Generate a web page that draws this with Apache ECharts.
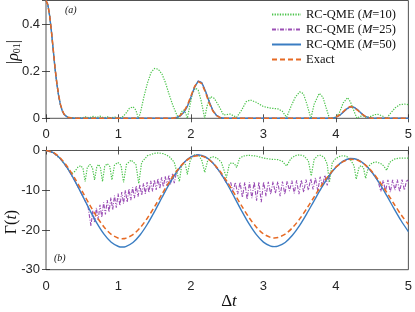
<!DOCTYPE html>
<html><head><meta charset="utf-8">
<script src="https://cdn.jsdelivr.net/npm/echarts@6/dist/echarts.min.js"></script>
<style>html,body{margin:0;padding:0;background:#fff}#c{width:415px;height:312px}</style>
</head><body><div id="c"></div>
<script>
// ---------- data ----------
const xTickLabels = ['0','1','2','3','4','5'];
const topYTickLabels = ['0','0.2','0.4'];
const bottomYTickLabels = ['-30','-20','-10','0'];
const seriesNames = ['RC-QME (M=10)','RC-QME (M=25)','RC-QME (M=50)','Exact'];

// panel (a): |rho_01|
const rhoM10 = [[0,0.5],[0.025,0.483],[0.05,0.436],[0.075,0.368],[0.1,0.289],[0.125,0.21],[0.15,0.146],[0.175,0.094],[0.2,0.056],[0.225,0.031],[0.25,0.016],[0.3,0.005],[0.35,0.002],[0.42,0.001],[0.5,0.002],[0.55,0.006],[0.6,0.002],[0.65,0.008],[0.7,0.003],[0.75,0.009],[0.8,0.002],[0.85,0.006],[0.9,0.002],[0.95,0.005],[1.0,0.002],[1.05,0.004],[1.1,0.02],[1.15,0.042],[1.2,0.049],[1.24,0.035],[1.275,0],[1.3,0.02],[1.35,0.09],[1.4,0.15],[1.45,0.195],[1.5,0.212],[1.55,0.208],[1.6,0.188],[1.65,0.15],[1.7,0.1],[1.75,0.055],[1.8,0.018],[1.83,0],[1.87,0.028],[1.9,0.035],[1.93,0.02],[1.95,0],[1.98,0.045],[2.02,0.105],[2.06,0.128],[2.1,0.12],[2.14,0.075],[2.19,0],[2.22,0.05],[2.27,0.092],[2.32,0.085],[2.38,0.055],[2.45,0.014],[2.5,0.016],[2.54,0.018],[2.58,0.012],[2.63,0.004],[2.7,0.035],[2.76,0.07],[2.82,0.078],[2.9,0.068],[3.0,0.05],[3.1,0.043],[3.2,0.04],[3.26,0.03],[3.32,0.004],[3.38,0.05],[3.44,0.09],[3.5,0.112],[3.55,0.105],[3.6,0.06],[3.655,0],[3.7,0.06],[3.77,0.106],[3.82,0.09],[3.87,0.04],[3.91,0],[3.95,0.002],[4.0,0.005],[4.05,0.025],[4.1,0.065],[4.16,0.088],[4.2,0.07],[4.25,0.03],[4.29,0],[4.33,0.008],[4.38,0.01],[4.42,0.003],[4.48,0.008],[4.53,0.015],[4.58,0.017],[4.64,0.01],[4.7,0],[4.75,0.02],[4.82,0.045],[4.88,0.058],[4.95,0.06],[5.0,0.058]];
const rhoM50 = [[0,0.5],[0.025,0.483],[0.05,0.436],[0.075,0.368],[0.1,0.289],[0.125,0.21],[0.15,0.146],[0.175,0.094],[0.2,0.056],[0.225,0.031],[0.25,0.016],[0.3,0.004],[0.35,0.001],[0.4,0],[1.75,0],[1.8,0.003],[1.85,0.01],[1.9,0.025],[1.95,0.05],[2.0,0.09],[2.05,0.132],[2.1,0.158],[2.15,0.151],[2.2,0.116],[2.25,0.071],[2.3,0.035],[2.35,0.013],[2.4,0.004],[2.45,0],[3.95,0],[4.0,0.004],[4.05,0.012],[4.1,0.026],[4.15,0.04],[4.2,0.049],[4.25,0.047],[4.3,0.036],[4.35,0.021],[4.4,0.009],[4.45,0.003],[4.5,0],[5,0]];
const rhoM25 = rhoM50; // coincides with M=50 in panel (a)
const rhoExact = [[0,0.5],[0.025,0.483],[0.05,0.437],[0.075,0.37],[0.1,0.292],[0.125,0.214],[0.15,0.149],[0.175,0.097],[0.2,0.059],[0.225,0.033],[0.25,0.017],[0.3,0.004],[0.35,0.001],[0.4,0],[1.75,0],[1.8,0.004],[1.85,0.012],[1.9,0.028],[1.95,0.055],[2.0,0.095],[2.05,0.135],[2.1,0.156],[2.15,0.147],[2.2,0.11],[2.25,0.066],[2.3,0.032],[2.35,0.012],[2.4,0.003],[2.45,0],[3.95,0],[4.0,0.005],[4.05,0.014],[4.1,0.028],[4.15,0.042],[4.2,0.05],[4.25,0.046],[4.3,0.034],[4.35,0.02],[4.4,0.009],[4.45,0.003],[4.5,0],[5,0]];

// panel (b): Gamma(t)
const gammaM10 = [[0,0],[0.1,-0.54],[0.2,-2.11],[0.3,-4.57],[0.35,-5.9],[0.4,-5.2],[0.44,-4.2],[0.48,-3.8],[0.51,-4.5],[0.54,-7.8],[0.57,-4.3],[0.605,-3.5],[0.64,-4.3],[0.67,-7.4],[0.7,-4.2],[0.725,-3.5],[0.75,-4.2],[0.78,-7.8],[0.81,-4.0],[0.845,-3.3],[0.88,-4.0],[0.91,-7.4],[0.945,-3.7],[0.99,-3.0],[1.035,-3.7],[1.07,-8.0],[1.11,-3.5],[1.175,-2.4],[1.24,-3.5],[1.28,-8.3],[1.32,-3.0],[1.4,-1.3],[1.5,-0.7],[1.55,-0.6],[1.62,-0.8],[1.7,-1.5],[1.77,-3.0],[1.84,-7.8],[1.87,-4.0],[1.9,-3.0],[1.925,-3.6],[1.95,-6.0],[1.99,-2.5],[2.03,-1.3],[2.07,-1.0],[2.11,-1.3],[2.15,-2.5],[2.19,-5.5],[2.23,-2.6],[2.27,-1.8],[2.31,-1.6],[2.36,-1.9],[2.42,-3.0],[2.49,-6.8],[2.53,-3.4],[2.56,-3.1],[2.6,-3.3],[2.63,-4.3],[2.67,-2.0],[2.72,-1.4],[2.8,-1.2],[2.9,-1.4],[3.0,-1.9],[3.1,-2.2],[3.2,-2.3],[3.26,-2.7],[3.32,-3.9],[3.38,-2.0],[3.44,-1.3],[3.5,-1.1],[3.56,-1.4],[3.62,-2.6],[3.66,-6.4],[3.7,-2.2],[3.75,-1.3],[3.79,-1.2],[3.84,-1.8],[3.88,-3.4],[3.91,-8.0],[3.95,-3.0],[4.0,-2.0],[4.05,-1.5],[4.1,-1.3],[4.15,-1.5],[4.2,-2.3],[4.25,-3.8],[4.28,-7.2],[4.32,-4.2],[4.35,-3.8],[4.38,-4.3],[4.41,-7.0],[4.45,-4.0],[4.5,-3.1],[4.56,-2.9],[4.62,-3.3],[4.66,-3.9],[4.7,-5.0],[4.74,-3.0],[4.8,-2.2],[4.88,-1.9],[5.0,-1.9]];
const gammaM25 = [[0,0],[0.1,-0.54],[0.2,-2.11],[0.3,-4.57],[0.4,-7.71],[0.5,-11.24],[0.58,-14.15],[0.6,-14.6],[0.62,-19.0],[0.645,-15.2],[0.67,-18.2],[0.695,-14.4],[0.72,-17.5],[0.745,-13.65],[0.77,-16.8],[0.795,-13.05],[0.82,-16.1],[0.845,-12.45],[0.87,-15.5],[0.895,-11.85],[0.92,-14.9],[0.945,-11.35],[0.97,-14.4],[0.995,-10.85],[1.02,-13.9],[1.045,-10.45],[1.07,-13.4],[1.095,-10.05],[1.12,-13.0],[1.145,-9.65],[1.17,-12.5],[1.195,-9.25],[1.22,-12.0],[1.245,-8.9],[1.27,-11.6],[1.295,-8.55],[1.32,-11.3],[1.345,-8.25],[1.37,-10.9],[1.395,-7.95],[1.42,-10.6],[1.445,-7.65],[1.47,-10.3],[1.495,-7.35],[1.52,-9.9],[1.545,-7.05],[1.57,-9.6],[1.595,-6.75],[1.62,-9.2],[1.645,-6.45],[1.67,-8.9],[1.695,-6.15],[1.72,-8.5],[1.745,-5.85],[1.77,-8.2],[1.8,-5.47],[1.9,-3.11],[2.0,-1.62],[2.1,-1.1],[2.2,-1.61],[2.3,-3.1],[2.4,-5.45],[2.5,-8.43],[2.55,-8.1],[2.58,-10.5],[2.6125,-8.0],[2.645,-11.0],[2.6775,-8.0],[2.71,-11.8],[2.7425,-8.0],[2.775,-12.3],[2.8075,-8.0],[2.84,-12.0],[2.8725,-7.9],[2.905,-12.6],[2.9375,-7.9],[2.97,-13.0],[3.0025,-7.9],[3.035,-11.5],[3.0675,-7.9],[3.1,-11.0],[3.1325,-7.8],[3.165,-10.8],[3.1975,-7.8],[3.23,-11.5],[3.2625,-7.8],[3.295,-11.0],[3.3275,-7.7],[3.36,-10.2],[3.3925,-7.6],[3.425,-10.8],[3.4575,-7.5],[3.49,-11.0],[3.5225,-7.4],[3.555,-10.5],[3.5875,-7.3],[3.62,-10.0],[3.6525,-7.1],[3.685,-9.8],[3.7175,-6.9],[3.75,-10.2],[3.7825,-6.6],[3.815,-9.0],[3.8475,-6.2],[3.88,-8.8],[3.92,-5.8],[4.0,-4.23],[4.1,-2.68],[4.2,-2.02],[4.3,-2.3],[4.4,-3.51],[4.5,-5.54],[4.58,-7.6],[4.62,-10.3],[4.6525,-7.5],[4.685,-10.2],[4.7175,-7.4],[4.75,-10.5],[4.7825,-7.4],[4.815,-10.0],[4.8475,-7.3],[4.88,-10.4],[4.9125,-7.3],[4.945,-10.0],[4.9775,-7.3],[5.0,-7.8]];
const gammaM50 = [[0,0],[0.1,-0.54],[0.2,-2.11],[0.3,-4.57],[0.4,-7.71],[0.5,-11.24],[0.6,-14.85],[0.7,-18.23],[0.8,-21.06],[0.9,-23.1],[1.0,-24.16],[1.05,-24.3],[1.1,-24.17],[1.2,-23.15],[1.3,-21.2],[1.4,-18.5],[1.5,-15.28],[1.6,-11.83],[1.7,-8.46],[1.8,-5.47],[1.9,-3.11],[2.0,-1.62],[2.1,-1.1],[2.2,-1.61],[2.3,-3.1],[2.4,-5.45],[2.5,-8.43],[2.6,-11.79],[2.7,-15.22],[2.8,-18.43],[2.9,-21.12],[3.0,-23.06],[3.1,-24.07],[3.15,-24.2],[3.2,-24.08],[3.3,-23.14],[3.4,-21.34],[3.5,-18.84],[3.6,-15.84],[3.7,-12.61],[3.8,-9.43],[3.9,-6.55],[4.0,-4.23],[4.1,-2.68],[4.2,-2.02],[4.3,-2.3],[4.4,-3.51],[4.5,-5.54],[4.6,-8.23],[4.7,-11.31],[4.8,-14.56],[4.9,-17.68],[5.0,-20.4]];
const gammaExact = [[0,0],[0.1,-0.5],[0.2,-1.95],[0.3,-4.2],[0.4,-7.1],[0.5,-10.3],[0.6,-13.6],[0.7,-16.65],[0.8,-19.24],[0.9,-21.1],[1.0,-22.07],[1.05,-22.2],[1.1,-22.08],[1.2,-21.17],[1.3,-19.41],[1.4,-16.98],[1.5,-14.08],[1.6,-10.97],[1.7,-7.93],[1.8,-5.24],[1.9,-3.11],[2.0,-1.76],[2.1,-1.3],[2.2,-1.76],[2.3,-3.09],[2.4,-5.2],[2.5,-7.87],[2.6,-10.88],[2.7,-13.95],[2.8,-16.83],[2.9,-19.24],[3.0,-20.98],[3.1,-21.88],[3.15,-22.0],[3.2,-21.89],[3.3,-21.06],[3.4,-19.45],[3.5,-17.22],[3.6,-14.55],[3.7,-11.66],[3.8,-8.82],[3.9,-6.26],[4.0,-4.19],[4.1,-2.81],[4.2,-2.22],[4.3,-2.47],[4.4,-3.55],[4.5,-5.36],[4.6,-7.75],[4.7,-10.5],[4.8,-13.4],[4.9,-16.19],[5.0,-18.6]];

// ---------- chart ----------
const AX = '#262626';
const SANS = 'Liberation Sans';
const SERIF = 'Liberation Serif';
const C10 = '#4cc44c', C25 = '#9b4fb5', C50 = '#3a7dc2', CEX = '#e66a24';

function xAx(grid, pos, label) {
  return {type:'value', gridIndex:grid, position:pos, min:0, max:5, interval:1,
    axisLine:{show:false}, splitLine:{show:false},
    axisTick:{show:true, inside:true, length:4, lineStyle:{color:AX, width:0.8}},
    axisLabel:{show:label, margin:10, color:AX, fontFamily:SANS, fontSize:13,
      formatter:v=>xTickLabels[Math.round(v)]}};
}
function yAx(grid, pos, label, min, max, interval, fmt) {
  return {type:'value', gridIndex:grid, position:pos, min:min, max:max, interval:interval,
    axisLine:{show:false}, splitLine:{show:false},
    axisTick:{show:true, inside:true, length:4, lineStyle:{color:AX, width:0.8}},
    axisLabel:{show:label, margin:6, color:AX, fontFamily:SANS, fontSize:13, showMaxLabel:grid===1, formatter:fmt}};
}
const topFmt = v => topYTickLabels[Math.round(v/0.2)] || '';
const botFmt = v => bottomYTickLabels[Math.round((v+30)/10)] || '';

function line(name, data, xi, color, type, width, z) {
  return {type:'line', name:name, data:data, xAxisIndex:xi, yAxisIndex:xi,
    symbol:'none', showSymbol:false, z:z,
    lineStyle:{color:color, width:width, type:type}, itemStyle:{color:color}};
}

const legendLabels = {
  'RC-QME (M=10)':'RC-QME ({i|M}=10)',
  'RC-QME (M=25)':'RC-QME ({i|M}=25)',
  'RC-QME (M=50)':'RC-QME ({i|M}=50)',
  'Exact':'Exact'
};

const chart = echarts.init(document.getElementById('c'), null, {renderer:'canvas'});
chart.setOption({
  animation:false,
  backgroundColor:'#fff',
  grid:[
    {left:46, top:0.5, width:364.5, height:117.8, show:true, borderColor:AX, borderWidth:0.8, backgroundColor:'transparent'},
    {left:46, top:150.5, width:364.5, height:119.2, show:true, borderColor:AX, borderWidth:0.8, backgroundColor:'transparent'}
  ],
  xAxis:[xAx(0,'bottom',true), xAx(0,'top',false), xAx(1,'bottom',true), xAx(1,'top',false)],
  yAxis:[yAx(0,'left',true,0,0.5,0.2,topFmt), yAx(0,'right',false,0,0.5,0.2,topFmt),
         yAx(1,'left',true,-30,0,10,botFmt), yAx(1,'right',false,-30,0,10,botFmt)],
  legend:{orient:'vertical', left:271, top:8, padding:0, itemWidth:29, itemHeight:10, itemGap:2,
    data:seriesNames, selectedMode:false,
    itemStyle:{opacity:0},
    formatter:n=>legendLabels[n],
    textStyle:{fontFamily:SERIF, fontSize:12.5, color:'#111', lineHeight:13,
      rich:{i:{fontFamily:SERIF, fontSize:12.5, fontStyle:'italic', color:'#111', lineHeight:13}}}},
  series:[
    line(seriesNames[0], rhoM10, 0, C10, [1.3,1.3], 1.2, 2),
    line(seriesNames[1], rhoM25, 0, C25, [4,1.5,1,1.5], 1.1, 3),
    line(seriesNames[2], rhoM50, 0, C50, 'solid', 1.4, 4),
    line(seriesNames[3], rhoExact, 0, CEX, [5,3], 1.5, 5),
    line(seriesNames[0], gammaM10, 2, C10, [1.3,1.3], 1.2, 2),
    line(seriesNames[1], gammaM25, 2, C25, [4,1.5,1,1.5], 1.1, 3),
    Object.assign(line(seriesNames[2], gammaM50, 2, C50, 'solid', 1.4, 4), {smooth:0.3}),
    Object.assign(line(seriesNames[3], gammaExact, 2, CEX, [5,3], 1.5, 5), {smooth:0.3})
  ],
  graphic:[
    {type:'text', x:65, y:10, style:{text:'(a)', font:'italic 10px "Liberation Serif"', fill:'#111', verticalAlign:'middle'}},
    {type:'text', x:54, y:258, style:{text:'(b)', font:'italic 10px "Liberation Serif"', fill:'#111', verticalAlign:'middle'}},
    {type:'text', x:14, y:52, rotation:Math.PI/2,
      style:{text:'|{r|ρ}{s|01}|', font:'16px "Liberation Serif"', fill:'#111', align:'center', verticalAlign:'middle',
        rich:{r:{fontFamily:SERIF, fontSize:16, fontStyle:'italic', lineHeight:16}, s:{fontFamily:SERIF, fontSize:10, lineHeight:6, verticalAlign:'bottom'}}}},
    {type:'text', x:12, y:222, rotation:Math.PI/2,
      style:{text:'Γ({i|t})', font:'16px "Liberation Serif"', fill:'#111', align:'center', verticalAlign:'middle',
        rich:{i:{fontFamily:SERIF, fontSize:16, fontStyle:'italic'}}}},
    {type:'text', x:229, y:302,
      style:{text:'Δ{i|t}', font:'17px "Liberation Serif"', fill:'#111', align:'center', verticalAlign:'middle',
        rich:{i:{fontFamily:SERIF, fontSize:17, fontStyle:'italic'}}}}
  ]
});
</script></body></html>
